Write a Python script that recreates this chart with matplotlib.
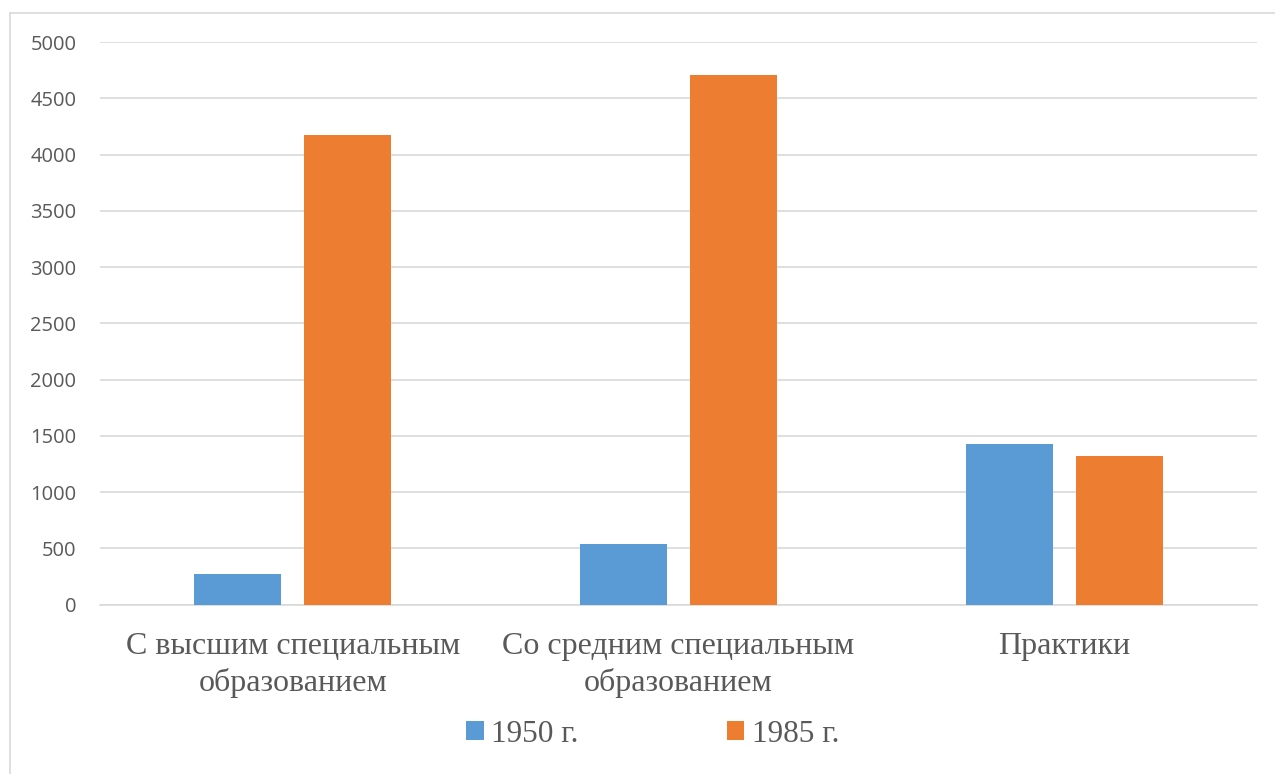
import numpy as np
import matplotlib
matplotlib.use('Agg')
import matplotlib.pyplot as plt
from matplotlib.lines import Line2D
from matplotlib.patches import Patch

categories = ["С высшим специальным\nобразованием",
              "Со средним специальным\nобразованием",
              "Практики"]
series_names = ["1950 г.", "1985 г."]
values_1950 = [268, 536, 1423]
values_1985 = [4171, 4711, 1319]
colors = ['#5b9bd5', '#ed7d31']
yticks = [0, 500, 1000, 1500, 2000, 2500, 3000, 3500, 4000, 4500, 5000]

W, H = 1275, 774
fig = plt.figure(figsize=(W / 100, H / 100), dpi=100)
ax = fig.add_axes([100 / W, 1 - 604.5 / H, 1157 / W, 562.5 / H])

x = np.arange(len(categories))
bw = 0.2256
off = 0.1426
ax.bar(x - off, values_1950, width=bw, color=colors[0], zorder=3)
ax.bar(x + off, values_1985, width=bw, color=colors[1], zorder=3)

ax.set_xlim(-0.5, len(categories) - 0.5)
ax.set_ylim(0, 5000)
ax.set_yticks(yticks)
ax.set_yticklabels([str(v) for v in yticks])
ax.yaxis.grid(True, color='#d9d9d9', linewidth=1.2, zorder=0)
ax.set_axisbelow(True)
for s in ['top', 'right', 'left']:
    ax.spines[s].set_visible(False)
ax.spines['bottom'].set_color('#d9d9d9')
ax.spines['bottom'].set_linewidth(1.2)
ax.tick_params(axis='y', length=0, pad=17, labelsize=14.5, labelcolor='#595959')
ax.tick_params(axis='x', length=0, pad=20, labelcolor='#595959')
ax.set_xticks(x)
ax.set_xticklabels(categories, fontfamily='Liberation Serif', fontsize=23,
                   linespacing=1.3)
for lbl in ax.get_yticklabels():
    lbl.set_fontfamily('Open Sans')

handles = [Patch(facecolor=c, edgecolor='none') for c in colors]
fig.legend(handles, series_names, loc='center', bbox_to_anchor=(653 / W, 1 - 734 / H),
           ncol=2, frameon=False, handlelength=0.55, handleheight=0.55,
           handletextpad=0.25, columnspacing=4.75,
           prop={'family': 'Liberation Serif', 'size': 22.5}, labelcolor='#595959')

# chart area border
fig.add_artist(Line2D([10 / W, 10 / W], [0, 1 - 13 / H], color='#d9d9d9', lw=1.2))
fig.add_artist(Line2D([10 / W, 1], [1 - 13 / H, 1 - 13 / H], color='#d9d9d9', lw=1.2))

fig.savefig('out.png', dpi=100)
